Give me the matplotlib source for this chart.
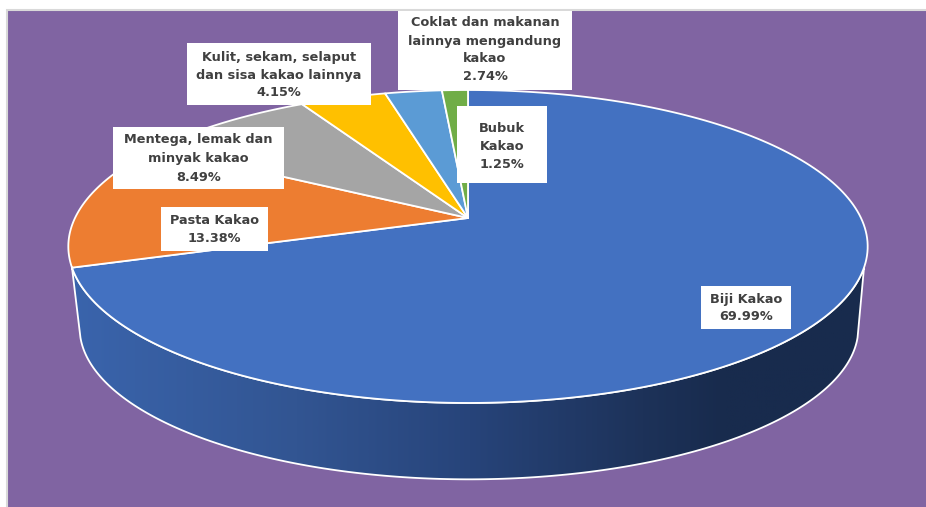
import numpy as np
import matplotlib
matplotlib.use('Agg')
import matplotlib.pyplot as plt
from matplotlib.colors import LinearSegmentedColormap
from matplotlib.patches import Rectangle, Polygon

# Data
names = ['Biji Kakao', 'Pasta Kakao', 'Mentega, lemak dan\nminyak kakao',
         'Kulit, sekam, selaput\ndan sisa kakao lainnya',
         'Coklat dan makanan\nlainnya mengandung\nkakao', 'Bubuk\nKakao']
shares = [69.99, 13.38, 8.49, 4.15, 2.74, 1.25]
colors = ['#4371C1', '#ED7D31', '#A5A5A5', '#FFC000', '#5B9BD5', '#70AD47']

# label boxes in pixels: left, top, right, bottom, first line y, line step
boxes = [(701, 286, 791, 329, 299, 18),
         (161, 207, 268, 251, 220, 19),
         (113, 127, 284, 189, 139.5, 19),
         (187, 43, 371, 105, 57, 18),
         (398, 11, 572, 90, 23, 18),
         (457, 106, 547, 183, 128, 18)]

# perspective of the top face and of the lower rim
top = dict(cx=468, cy=218, a=393, b=151.3, k=0.182)
low = dict(cx=469, cy=290, a=377, b=142, k=0.25)


def project(deg, p):
    # deg runs clockwise from 12 o'clock
    t = np.radians(deg)
    w = 1 + p['k'] * np.cos(t)
    return p['cx'] + p['a'] * np.sin(t) / w, p['cy'] - p['b'] * np.cos(t) / w


fig = plt.figure(figsize=(9.26, 5.07), dpi=100, facecolor='white')
ax = fig.add_axes([0, 0, 1, 1])
ax.set_xlim(0, 926)
ax.set_ylim(507, 0)
ax.axis('off')

ax.add_patch(Rectangle((6.5, 9.5), 930, 510, fc='#8064A2', ec='#D9D9D9', lw=1.5, zorder=1))

# side wall, only the front part of the rim
end_angle = 3.6 * shares[0]
front = np.linspace(end_angle, 360 - end_angle, 200)
x1, y1 = project(front, top)
x2, y2 = project(front[::-1], low)
wall = Polygon(np.column_stack([np.r_[x1, x2], np.r_[y1, y2]]), closed=True,
               fc='none', ec='white', lw=1.3, zorder=3)
ax.add_patch(wall)
shade = LinearSegmentedColormap.from_list('shade', [
    (0.0, '#3A64AC'), (0.28, '#325592'), (0.5, '#27447A'), (0.72, '#1D3259'), (0.82, '#182B4D'), (1.0, '#182B4D')])
img = ax.imshow(np.linspace(0, 1, 400).reshape(1, -1), cmap=shade, extent=(72, 868, 480, 260),
                aspect='auto', zorder=2)
img.set_clip_path(wall)
ax.set_xlim(0, 926)
ax.set_ylim(507, 0)

# top face
start = 0
for share, col in zip(shares, colors):
    ang = np.linspace(start, start + share * 3.6, 200)
    x, y = project(ang, top)
    ax.fill(np.r_[top['cx'], x], np.r_[top['cy'], y], fc=col, ec='white', lw=1.3,
            joinstyle='round', zorder=4)
    start += share * 3.6

# labels
for name, share, box in zip(names, shares, boxes):
    left, up, right, down, first, step = box
    ax.add_patch(Rectangle((left, up), right - left, down - up, fc='white', ec='none', zorder=5))
    lines = name.split('\n') + ['%.2f%%' % share]
    for i, line in enumerate(lines):
        ax.text((left + right) / 2, first + i * step, line, ha='center', va='center',
                fontsize=9.3, fontweight='bold', color='#404040', family='DejaVu Sans', zorder=6)

fig.savefig('out.png', dpi=100)
